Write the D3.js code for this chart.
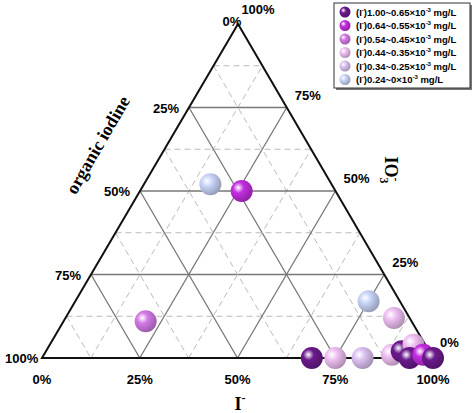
<!DOCTYPE html>
<html><head><meta charset="utf-8">
<script src="https://cdn.jsdelivr.net/npm/d3@7.9.0/dist/d3.min.js"></script>
<style>body{margin:0;background:#fff}</style></head>
<body><svg id="chart" width="474" height="413"></svg>
<script>
// composition fractions (I-, IO3-, organic) and concentration class (0 = highest)
const iodide  = [0.17, 0.26, 0.21, 0.75, 0.84, 0.69, 0.75, 0.82, 0.89, 0.91, 0.93, 0.94, 0.97, 1.00];
const iodate  = [0.52, 0.50, 0.11, 0.17, 0.12, 0.00, 0.00, 0.00, 0.01, 0.02, 0.04, 0.00, 0.01, 0.00];
const levels  = [5,    1,    2,    5,    3,    0,    3,    4,    3,    0,    3,    0,    1,    0];
const legendLabels = ['1.00~0.65', '0.64~0.55', '0.54~0.45', '0.44~0.35', '0.34~0.25', '0.24~0'];
const levelColors = ['#6b1a8c', '#c22ee0', '#d47ae6', '#efbff2', '#dcc2f2', '#c9d5f8'];
const tickLabels = ['0%', '25%', '50%', '75%', '100%'];

const svg = d3.select('#chart');
const L = [42, 358], R = [433, 358], T = [238, 24];
function pos(i, o3) {
  const org = 1 - i - o3;
  return [L[0] * org + R[0] * i + T[0] * o3, L[1] * org + R[1] * i + T[1] * o3];
}

const defs = svg.append('defs');
levelColors.forEach((c, k) => {
  const g = defs.append('radialGradient').attr('id', 'g' + k).attr('cx', '35%').attr('cy', '35%').attr('r', '70%');
  g.append('stop').attr('offset', '0%').attr('stop-color', '#fff');
  g.append('stop').attr('offset', '35%').attr('stop-color', c);
  g.append('stop').attr('offset', '100%').attr('stop-color', d3.color(c).darker(0.9));
});

// grid: dashed at 12.5% steps, solid at 25%
const steps = d3.range(1, 8).map(d => d / 8);
steps.forEach(f => {
  const solid = Math.round(f * 8) % 2 === 0;
  const lines = [
    [pos(f, 0), pos(f, 1 - f)],
    [pos(0, f), pos(1 - f, f)],
    [pos(0, 1 - f), pos(1 - f, 0)]
  ];
  lines.forEach(([a, b]) => svg.append('line')
    .attr('x1', a[0]).attr('y1', a[1]).attr('x2', b[0]).attr('y2', b[1])
    .attr('stroke', solid ? '#777' : '#bbb').attr('stroke-width', solid ? 1.3 : 1)
    .attr('stroke-dasharray', solid ? null : '6,4'));
});
svg.append('path').attr('d', `M${L}L${R}L${T}Z`).attr('fill', 'none').attr('stroke', '#111').attr('stroke-width', 2);

const tf = 'Arial, "Liberation Sans", sans-serif';
function lab(x, y, t, anchor) {
  svg.append('text').attr('x', x).attr('y', y).text(t).attr('font-family', tf)
    .attr('font-weight', 'bold').attr('font-size', 13).attr('text-anchor', anchor || 'middle');
}
tickLabels.forEach((t, k) => {
  const f = k / 4;
  const b = pos(f, 0); lab(b[0], 384, t);
  const r = pos(1 - f, f); if (k > 0 && k < 4) lab(r[0] + 8, r[1] - 8, t, 'start');
  const l = pos(0, 1 - f); if (k < 4 && k > 0) lab(l[0] - 10, l[1] + 5, t, 'end');
});
lab(232, 26, '0%'); lab(258, 14, '100%'); lab(440, 347, '0%', 'start'); lab(5, 363, '100%', 'start');

const ff = '"Liberation Serif", "DejaVu Serif", serif';
svg.append('text').attr('transform', 'translate(103,148) rotate(-60)').attr('text-anchor', 'middle')
  .attr('font-family', ff).attr('font-weight', 'bold').attr('font-size', 18).text('organic iodine');
const io = svg.append('text').attr('transform', 'translate(385,170) rotate(90)').attr('text-anchor', 'middle')
  .attr('font-family', ff).attr('font-weight', 'bold').attr('font-size', 18);
io.append('tspan').text('IO');
io.append('tspan').attr('font-size', 12).attr('dy', 5).text('3');
io.append('tspan').attr('font-size', 12).attr('dy', -12).attr('dx', -6).text('-');
const ii = svg.append('text').attr('x', 240).attr('y', 410).attr('text-anchor', 'middle')
  .attr('font-family', ff).attr('font-weight', 'bold').attr('font-size', 18);
ii.append('tspan').text('I');
ii.append('tspan').attr('font-size', 12).attr('dy', -8).text('-');

// points
svg.append('g').selectAll('circle').data(iodide.map((d, k) => ({ i: d, o: iodate[k], l: levels[k] })))
  .join('circle')
  .attr('cx', d => pos(d.i, d.o)[0]).attr('cy', d => pos(d.i, d.o)[1]).attr('r', 11)
  .attr('fill', d => `url(#g${d.l})`);

// legend
const lg = svg.append('g').attr('transform', 'translate(334,3)');
lg.append('rect').attr('x', 2).attr('y', 2).attr('width', 136).attr('height', 85).attr('fill', '#777');
lg.append('rect').attr('width', 136).attr('height', 85).attr('fill', '#fff').attr('stroke', '#333');
legendLabels.forEach((t, k) => {
  const y = 9 + k * 13.5;
  lg.append('circle').attr('cx', 11).attr('cy', y).attr('r', 5.5).attr('fill', `url(#g${k})`);
  const tx = lg.append('text').attr('x', 22).attr('y', y + 3.5).attr('font-family', tf)
    .attr('font-weight', 'bold').attr('font-size', 9.5);
  tx.append('tspan').text('(I');
  tx.append('tspan').attr('font-size', 6).attr('dy', -4).text('-');
  tx.append('tspan').attr('dy', 4).text(')' + t + '×10');
  tx.append('tspan').attr('font-size', 6).attr('dy', -4).text('-3');
  tx.append('tspan').attr('dy', 4).text(' mg/L');
});
</script></body></html>
